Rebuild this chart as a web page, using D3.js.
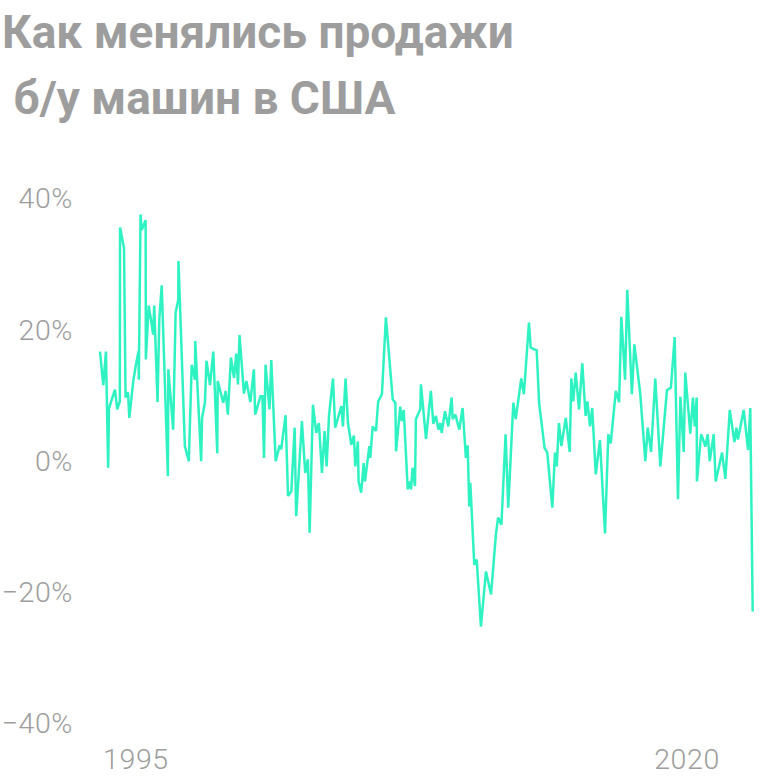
<!DOCTYPE html>
<html>
<head>
<meta charset="utf-8">
<script src="https://cdn.jsdelivr.net/npm/d3@7"></script>
<style>
  html, body { margin: 0; padding: 0; background: #ffffff; }
  svg { display: block; }
</style>
</head>
<body>
<svg id="chart" width="768" height="779"></svg>
<script>
// ---- data ----
const titleLines = ["Как менялись продажи", " б/у машин в США"];
const yTicks = [40, 20, 0, -20, -40];
const xTickYears = [1995, 2020];

// dates (decimal years) of line vertices
const dates = [
  1993.37, 1993.52, 1993.64, 1993.74, 1993.78, 1994.05, 1994.15, 1994.27, 1994.28, 1994.46,
  1994.53, 1994.64, 1994.70, 1994.88, 1995.00, 1995.12, 1995.13, 1995.21, 1995.26, 1995.44,
  1995.45, 1995.58, 1995.68, 1995.78, 1995.83, 1995.98, 1996.06, 1996.17, 1996.45, 1996.47,
  1996.69, 1996.80, 1996.92, 1996.93, 1997.22, 1997.40, 1997.53, 1997.68, 1997.69, 1997.96,
  1998.00, 1998.13, 1998.20, 1998.36, 1998.51, 1998.69, 1998.71, 1998.96, 1999.07, 1999.17,
  1999.31, 1999.45, 1999.55, 1999.63, 1999.70, 1999.90, 2000.01, 2000.19, 2000.35, 2000.41,
  2000.65, 2000.74, 2000.81, 2000.88, 2001.06, 2001.14, 2001.34, 2001.52, 2001.59, 2001.79,
  2001.90, 2002.05, 2002.20, 2002.27, 2002.53, 2002.68, 2002.80, 2002.88, 2003.03, 2003.18,
  2003.30, 2003.44, 2003.56, 2003.65, 2003.76, 2003.94, 2004.04, 2004.32, 2004.39, 2004.51,
  2004.62, 2004.77, 2004.89, 2004.95, 2005.07, 2005.10, 2005.22, 2005.33, 2005.39, 2005.59,
  2005.63, 2005.74, 2005.89, 2005.99, 2006.16, 2006.34, 2006.65, 2006.77, 2006.80, 2006.99,
  2007.06, 2007.15, 2007.33, 2007.40, 2007.48, 2007.55, 2007.66, 2007.70, 2007.90, 2007.93,
  2008.16, 2008.38, 2008.49, 2008.61, 2008.72, 2008.81, 2008.87, 2009.02, 2009.17, 2009.32,
  2009.37, 2009.49, 2009.67, 2009.82, 2009.97, 2010.05, 2010.12, 2010.17, 2010.35, 2010.46,
  2010.65, 2010.88, 2011.11, 2011.33, 2011.43, 2011.58, 2011.77, 2011.89, 2012.12, 2012.23,
  2012.48, 2012.60, 2012.83, 2012.91, 2013.18, 2013.29, 2013.54, 2013.66, 2013.89, 2014.01,
  2014.09, 2014.19, 2014.30, 2014.50, 2014.68, 2014.75, 2014.84, 2014.95, 2015.10, 2015.25,
  2015.40, 2015.48, 2015.60, 2015.70, 2015.86, 2016.05, 2016.28, 2016.43, 2016.54, 2016.77,
  2016.92, 2017.02, 2017.19, 2017.29, 2017.50, 2017.61, 2017.88, 2018.11, 2018.22, 2018.37,
  2018.56, 2018.79, 2019.09, 2019.27, 2019.44, 2019.59, 2019.70, 2019.85, 2019.92, 2020.15,
  2020.27, 2020.35, 2020.44, 2020.45, 2020.64, 2020.73, 2020.83, 2020.94, 2021.03, 2021.21,
  2021.30, 2021.59, 2021.74, 2021.94, 2022.15, 2022.24, 2022.31, 2022.57, 2022.77, 2022.87,
  2022.98
];

// year-over-year change, %
const values = [
  16.6, 11.5, 16.6, -1.1, 8.0, 10.8, 7.8, 9.0, 35.5, 32.4,
  9.6, 10.4, 6.5, 12.1, 14.6, 16.7, 12.3, 37.5, 35.1, 36.6,
  15.4, 23.6, 21.5, 19.2, 23.6, 8.9, 21.5, 26.7, -2.4, 13.9,
  4.7, 22.5, 24.5, 30.4, 2.2, -0.1, 14.6, 12.3, 18.2, -0.1,
  6.5, 8.8, 15.2, 11.5, 16.6, 1.1, 12.1, 8.8, 10.6, 7.0,
  15.7, 12.6, 16.3, 11.6, 19.1, 10.2, 12.1, 8.9, 13.9, 7.0,
  9.8, 9.8, 0.4, 14.6, 7.8, 15.3, -0.1, 2.3, 1.7, 6.9,
  -5.4, -4.7, 5.0, -8.5, 6.0, -1.9, 0.2, -11.0, 8.5, 4.2,
  5.7, -1.9, 4.5, -0.9, 6.9, 12.5, 5.0, 8.3, 5.2, 12.5,
  5.7, 2.4, 3.8, -0.9, 2.9, -3.2, -4.9, -0.4, -3.2, 2.2,
  0.4, 5.2, 4.5, 9.0, 10.1, 21.8, 9.3, 8.8, 1.4, 8.2,
  6.0, 7.7, -4.4, -3.2, -4.4, -1.1, -3.9, 6.3, 7.8, 11.6,
  3.3, 10.6, 5.6, 6.8, 4.7, 5.7, 4.2, 7.5, 5.2, 9.6,
  6.3, 7.0, 4.7, 8.0, 0.4, 2.3, -7.0, -3.4, -15.9, -15.1,
  -25.3, -16.9, -20.4, -11.3, -8.7, -9.8, 4.0, -7.2, 8.8, 6.3,
  12.5, 10.1, 21.0, 17.2, 16.8, 8.8, 1.9, 1.2, -7.2, 1.2,
  -0.9, 5.7, 2.2, 6.5, 1.3, 12.5, 9.0, 13.4, 7.8, 14.8,
  6.8, 9.0, 5.2, 8.0, -2.1, 3.1, -11.1, 4.0, 2.6, 10.6,
  8.9, 21.9, 12.3, 26.0, 10.1, 17.7, 10.1, -0.1, 5.0, 1.3,
  12.5, -0.9, 10.7, 11.1, 18.8, -5.9, 9.7, 1.3, 13.4, 4.1,
  9.6, 5.2, 9.6, -3.2, 4.0, 3.2, 2.1, 4.0, -0.1, 4.0,
  -3.2, 1.2, -2.8, 7.7, 2.8, 5.0, 3.2, 7.7, 1.6, 8.0,
  -23.0
];

// ---- drawing ----
const svg = d3.select("#chart");
const grey = "#9d9d9d";
const lineColor = "#2ff2c2";

const x = d3.scaleLinear()
  .domain(d3.extent(dates))
  .range([100, 752.7]);

const y = d3.scaleLinear()
  .domain([-40, 40])
  .range([723, 198]);

// title
svg.append("g")
  .selectAll("text")
  .data(titleLines)
  .join("text")
  .attr("x", 2)
  .attr("y", (d, i) => 48 + i * 66)
  .attr("fill", grey)
  .attr("font-family", "Roboto, 'Noto Sans', sans-serif")
  .attr("font-weight", 700)
  .attr("font-size", 46)
  .attr("xml:space", "preserve")
  .style("white-space", "pre")
  .text(d => d);

// y axis labels
svg.append("g")
  .selectAll("text")
  .data(yTicks)
  .join("text")
  .attr("x", 73)
  .attr("y", d => y(d))
  .attr("dy", "0.36em")
  .attr("text-anchor", "end")
  .attr("fill", grey)
  .attr("font-family", "Roboto, 'Noto Sans', sans-serif")
  .attr("font-weight", 300)
  .attr("font-size", 28.5)
  .attr("letter-spacing", 0.6)
  .text(d => (d < 0 ? "\u2212" + Math.abs(d) : d) + "%");

// x axis labels
svg.append("g")
  .selectAll("text")
  .data(xTickYears)
  .join("text")
  .attr("x", d => x(d))
  .attr("y", 769)
  .attr("text-anchor", "middle")
  .attr("fill", grey)
  .attr("font-family", "Roboto, 'Noto Sans', sans-serif")
  .attr("font-weight", 300)
  .attr("font-size", 28.5)
  .attr("letter-spacing", 0.6)
  .text(d => d);

// line
const pts = dates.map((d, i) => ({ t: d, v: values[i] }));
svg.append("path")
  .datum(pts)
  .attr("fill", "none")
  .attr("stroke", lineColor)
  .attr("stroke-width", 2.5)
  .attr("stroke-linejoin", "miter")
  .attr("stroke-miterlimit", 2)
  .attr("d", d3.line().x(d => x(d.t)).y(d => y(d.v)));
</script>
</body>
</html>
